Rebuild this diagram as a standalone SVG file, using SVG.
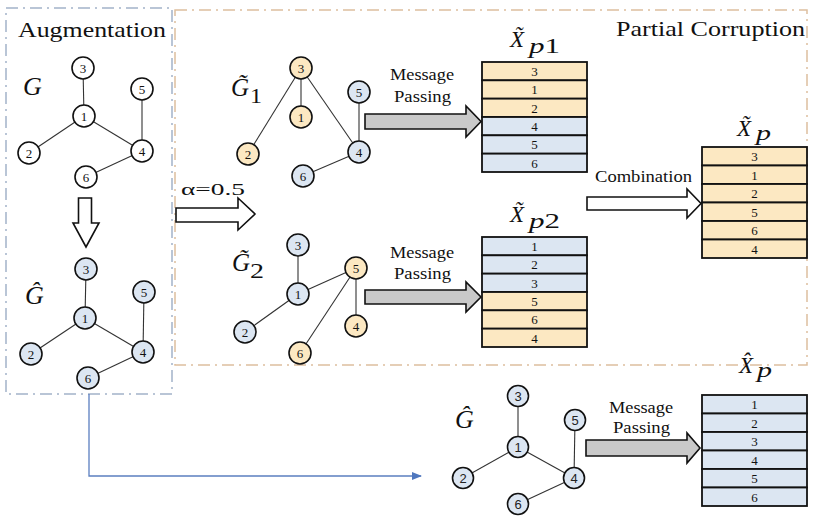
<svg xmlns="http://www.w3.org/2000/svg" width="815" height="525" viewBox="0 0 815 525">
<defs>
<style>
.bg{fill:#fff}
.frameA{fill:none;stroke:#a3b2c9;stroke-width:1.5;stroke-dasharray:12 5 2 5}
.frameP{fill:none;stroke:#ddbf9f;stroke-width:1.5;stroke-dasharray:12 5 2 5}
text{font-family:'Liberation Serif','Times New Roman',serif;fill:#111}
.math{font-style:italic}
.up{font-style:normal}
.nc{stroke:#111;stroke-width:1.6}
.w{fill:#fff}.y{fill:#fce8c2}.b{fill:#dce6f2}
.num{font-size:13px;text-anchor:middle}
.nums{font-family:'Liberation Sans',Arial,sans-serif;font-size:13px;text-anchor:middle;fill:#222}
.edge{stroke:#333;stroke-width:1.1}
.hollow{fill:#fff;stroke:#111;stroke-width:1.6}
.gray{fill:#c9c9c9;stroke:#111;stroke-width:1.6}
.row{stroke:#111;stroke-width:1.8}
.tn{font-size:13px;text-anchor:middle}
.blue{fill:none;stroke:#5b7fc0;stroke-width:1.3}
</style>
<marker id="ah" markerWidth="10" markerHeight="8" refX="9" refY="4" orient="auto" markerUnits="userSpaceOnUse">
<path d="M0,0 L10,4 L0,8 Z" fill="#4f77be"/>
</marker>
</defs>
<rect class="bg" width="815" height="525"/>

<!-- frames -->
<rect class="frameA" x="6" y="8" width="166" height="386"/>
<rect class="frameP" x="175" y="10" width="632" height="355"/>
<text x="18" y="37" font-size="22" textLength="148" lengthAdjust="spacingAndGlyphs">Augmentation</text>
<text x="616" y="36" font-size="21" textLength="189" lengthAdjust="spacingAndGlyphs">Partial Corruption</text>

<!-- connectors -->
<g id="connectors">
<line class="edge" x1="83" y1="68" x2="84" y2="116"/>
<line class="edge" x1="84" y1="116" x2="29" y2="153"/>
<line class="edge" x1="84" y1="116" x2="142" y2="151"/>
<line class="edge" x1="142" y1="89" x2="142" y2="151"/>
<line class="edge" x1="142" y1="151" x2="86" y2="177"/>
<line class="edge" x1="86" y1="269" x2="85" y2="318"/>
<line class="edge" x1="85" y1="318" x2="31" y2="354"/>
<line class="edge" x1="85" y1="318" x2="143" y2="352"/>
<line class="edge" x1="144" y1="292" x2="143" y2="352"/>
<line class="edge" x1="143" y1="352" x2="88" y2="378"/>
<line class="edge" x1="301" y1="68" x2="301" y2="117"/>
<line class="edge" x1="301" y1="68" x2="248" y2="154"/>
<line class="edge" x1="301" y1="68" x2="359" y2="152"/>
<line class="edge" x1="359" y1="92" x2="359" y2="152"/>
<line class="edge" x1="359" y1="152" x2="303" y2="176"/>
<line class="edge" x1="298" y1="245" x2="298" y2="294"/>
<line class="edge" x1="298" y1="294" x2="356" y2="268"/>
<line class="edge" x1="298" y1="294" x2="245" y2="332"/>
<line class="edge" x1="356" y1="268" x2="356" y2="326"/>
<line class="edge" x1="356" y1="268" x2="300" y2="353"/>
<line class="edge" x1="518" y1="396" x2="518" y2="447"/>
<line class="edge" x1="518" y1="447" x2="463" y2="478"/>
<line class="edge" x1="518" y1="447" x2="574" y2="478"/>
<line class="edge" x1="575" y1="420" x2="574" y2="478"/>
<line class="edge" x1="574" y1="478" x2="518" y2="504"/>
<polygon class="hollow" points="78.5,198 91.5,198 91.5,223 99,223 86,247 73,223 78.5,223"/>
<polygon class="hollow" points="176,208 238,208 238,198 255,214 238,230 238,222 176,222"/>
<polygon class="hollow" points="587,197 687,197 687,189 701,203.5 687,218 687,210 587,210"/>
<polygon class="gray" points="365,114 466,114 466,106 481,121.5 466,137 466,129 365,129"/>
<polygon class="gray" points="365,290 466,290 466,282 481,297 466,312 466,304 365,304"/>
<polygon class="gray" points="586,440 687,440 687,433 700,448 687,463 687,456 586,456"/>
<path class="blue" d="M89,394 V476 H421" marker-end="url(#ah)"/>
</g>

<!-- arrow labels -->
<text x="181" y="195" font-size="17" textLength="64" lengthAdjust="spacingAndGlyphs">α=0.5</text>
<text x="390" y="80" font-size="16" textLength="64" lengthAdjust="spacingAndGlyphs">Message</text>
<text x="394" y="102" font-size="16" textLength="57" lengthAdjust="spacingAndGlyphs">Passing</text>
<text x="390" y="258" font-size="16" textLength="64" lengthAdjust="spacingAndGlyphs">Message</text>
<text x="394" y="279" font-size="16" textLength="57" lengthAdjust="spacingAndGlyphs">Passing</text>
<text x="609" y="413" font-size="16" textLength="64" lengthAdjust="spacingAndGlyphs">Message</text>
<text x="613" y="433" font-size="16" textLength="57" lengthAdjust="spacingAndGlyphs">Passing</text>
<text x="595" y="182" font-size="16" textLength="97" lengthAdjust="spacingAndGlyphs">Combination</text>

<!-- graph labels -->
<text class="math" x="23" y="95" font-size="26">G</text>
<text class="math" x="25" y="304" font-size="26">Ĝ</text>
<text class="math" x="455" y="428" font-size="26">Ĝ</text>
<text class="math" x="231" y="96" font-size="25">G̃</text><text x="250" y="103" font-size="22" textLength="12" lengthAdjust="spacingAndGlyphs">1</text>
<text class="math" x="232" y="271" font-size="25">G̃</text><text x="250" y="278" font-size="22" textLength="14" lengthAdjust="spacingAndGlyphs">2</text>
<text class="math" x="510" y="47" font-size="23">X̃</text><text x="529" y="53" font-size="21" textLength="31" lengthAdjust="spacingAndGlyphs"><tspan class="math">p</tspan>1</text>
<text class="math" x="510" y="222" font-size="23">X̃</text><text x="529" y="228" font-size="21" textLength="31" lengthAdjust="spacingAndGlyphs"><tspan class="math">p</tspan>2</text>
<text class="math" x="737" y="136" font-size="23">X̃</text><text class="math" x="756" y="140" font-size="21" textLength="15" lengthAdjust="spacingAndGlyphs">p</text>
<text class="math" x="739" y="373" font-size="23">X̂</text><text class="math" x="757" y="377" font-size="21" textLength="15" lengthAdjust="spacingAndGlyphs">p</text>

<g id="G-3"><circle class="nc w" cx="83" cy="68" r="11"/><text class="num" x="83" y="72.5">3</text></g>
<g id="G-1"><circle class="nc w" cx="84" cy="116" r="11"/><text class="num" x="84" y="120.5">1</text></g>
<g id="G-5"><circle class="nc w" cx="142" cy="89" r="11"/><text class="num" x="142" y="93.5">5</text></g>
<g id="G-2"><circle class="nc w" cx="29" cy="153" r="11"/><text class="num" x="29" y="157.5">2</text></g>
<g id="G-4"><circle class="nc w" cx="142" cy="151" r="11"/><text class="num" x="142" y="155.5">4</text></g>
<g id="G-6"><circle class="nc w" cx="86" cy="177" r="11"/><text class="num" x="86" y="181.5">6</text></g>

<g id="Gh-3"><circle class="nc b" cx="86" cy="269" r="11"/><text class="num" x="86" y="273.5">3</text></g>
<g id="Gh-5"><circle class="nc b" cx="144" cy="292" r="11"/><text class="num" x="144" y="296.5">5</text></g>
<g id="Gh-1"><circle class="nc b" cx="85" cy="318" r="11"/><text class="num" x="85" y="322.5">1</text></g>
<g id="Gh-2"><circle class="nc b" cx="31" cy="354" r="11"/><text class="num" x="31" y="358.5">2</text></g>
<g id="Gh-4"><circle class="nc b" cx="143" cy="352" r="11"/><text class="num" x="143" y="356.5">4</text></g>
<g id="Gh-6"><circle class="nc b" cx="88" cy="378" r="11"/><text class="num" x="88" y="382.5">6</text></g>

<g id="G1-3"><circle class="nc y" cx="301" cy="68" r="11"/><text class="num" x="301" y="72.5">3</text></g>
<g id="G1-1"><circle class="nc y" cx="301" cy="117" r="11"/><text class="num" x="301" y="121.5">1</text></g>
<g id="G1-5"><circle class="nc b" cx="359" cy="92" r="11"/><text class="num" x="359" y="96.5">5</text></g>
<g id="G1-2"><circle class="nc y" cx="248" cy="154" r="11"/><text class="num" x="248" y="158.5">2</text></g>
<g id="G1-4"><circle class="nc b" cx="359" cy="152" r="11"/><text class="num" x="359" y="156.5">4</text></g>
<g id="G1-6"><circle class="nc b" cx="303" cy="176" r="11"/><text class="num" x="303" y="180.5">6</text></g>

<g id="G2-3"><circle class="nc b" cx="298" cy="245" r="11"/><text class="num" x="298" y="249.5">3</text></g>
<g id="G2-5"><circle class="nc y" cx="356" cy="268" r="11"/><text class="num" x="356" y="272.5">5</text></g>
<g id="G2-1"><circle class="nc b" cx="298" cy="294" r="11"/><text class="num" x="298" y="298.5">1</text></g>
<g id="G2-2"><circle class="nc b" cx="245" cy="332" r="11"/><text class="num" x="245" y="336.5">2</text></g>
<g id="G2-4"><circle class="nc y" cx="356" cy="326" r="11"/><text class="num" x="356" y="330.5">4</text></g>
<g id="G2-6"><circle class="nc y" cx="300" cy="353" r="11"/><text class="num" x="300" y="357.5">6</text></g>

<g id="Gb-3"><circle class="nc b" cx="518" cy="396" r="10.5"/><text class="nums" x="518" y="400.5">3</text></g>
<g id="Gb-5"><circle class="nc b" cx="575" cy="420" r="10.5"/><text class="nums" x="575" y="424.5">5</text></g>
<g id="Gb-1"><circle class="nc b" cx="518" cy="447" r="10.5"/><text class="nums" x="518" y="451.5">1</text></g>
<g id="Gb-2"><circle class="nc b" cx="463" cy="478" r="10.5"/><text class="nums" x="463" y="482.5">2</text></g>
<g id="Gb-4"><circle class="nc b" cx="574" cy="478" r="10.5"/><text class="nums" x="574" y="482.5">4</text></g>
<g id="Gb-6"><circle class="nc b" cx="518" cy="504" r="10.5"/><text class="nums" x="518" y="508.5">6</text></g>

<g id="Xp1">
<rect class="row y" x="482" y="62" width="105" height="18.33"/><text class="tn" x="534.5" y="76">3</text>
<rect class="row y" x="482" y="80.33" width="105" height="18.33"/><text class="tn" x="534.5" y="94.3">1</text>
<rect class="row y" x="482" y="98.67" width="105" height="18.33"/><text class="tn" x="534.5" y="112.7">2</text>
<rect class="row b" x="482" y="117" width="105" height="18.33"/><text class="tn" x="534.5" y="131">4</text>
<rect class="row b" x="482" y="135.33" width="105" height="18.33"/><text class="tn" x="534.5" y="149.3">5</text>
<rect class="row b" x="482" y="153.67" width="105" height="18.33"/><text class="tn" x="534.5" y="167.7">6</text>
</g>
<g id="Xp2">
<rect class="row b" x="482" y="237" width="105" height="18.33"/><text class="tn" x="534.5" y="251">1</text>
<rect class="row b" x="482" y="255.33" width="105" height="18.33"/><text class="tn" x="534.5" y="269.3">2</text>
<rect class="row b" x="482" y="273.67" width="105" height="18.33"/><text class="tn" x="534.5" y="287.7">3</text>
<rect class="row y" x="482" y="292" width="105" height="18.33"/><text class="tn" x="534.5" y="306">5</text>
<rect class="row y" x="482" y="310.33" width="105" height="18.33"/><text class="tn" x="534.5" y="324.3">6</text>
<rect class="row y" x="482" y="328.67" width="105" height="18.33"/><text class="tn" x="534.5" y="342.7">4</text>
</g>
<g id="Xp">
<rect class="row y" x="702" y="147" width="105" height="18.5"/><text class="tn" x="754.5" y="161">3</text>
<rect class="row y" x="702" y="165.5" width="105" height="18.5"/><text class="tn" x="754.5" y="179.5">1</text>
<rect class="row y" x="702" y="184" width="105" height="18.5"/><text class="tn" x="754.5" y="198">2</text>
<rect class="row y" x="702" y="202.5" width="105" height="18.5"/><text class="tn" x="754.5" y="216.5">5</text>
<rect class="row y" x="702" y="221" width="105" height="18.5"/><text class="tn" x="754.5" y="235">6</text>
<rect class="row y" x="702" y="239.5" width="105" height="18.5"/><text class="tn" x="754.5" y="253.5">4</text>
</g>
<g id="Xhp">
<rect class="row b" x="702" y="395" width="105" height="18.5"/><text class="tn" x="754.5" y="409">1</text>
<rect class="row b" x="702" y="413.5" width="105" height="18.5"/><text class="tn" x="754.5" y="427.5">2</text>
<rect class="row b" x="702" y="432" width="105" height="18.5"/><text class="tn" x="754.5" y="446">3</text>
<rect class="row b" x="702" y="450.5" width="105" height="18.5"/><text class="tn" x="754.5" y="464.5">4</text>
<rect class="row b" x="702" y="469" width="105" height="18.5"/><text class="tn" x="754.5" y="483">5</text>
<rect class="row b" x="702" y="487.5" width="105" height="18.5"/><text class="tn" x="754.5" y="501.5">6</text>
</g>
</svg>
